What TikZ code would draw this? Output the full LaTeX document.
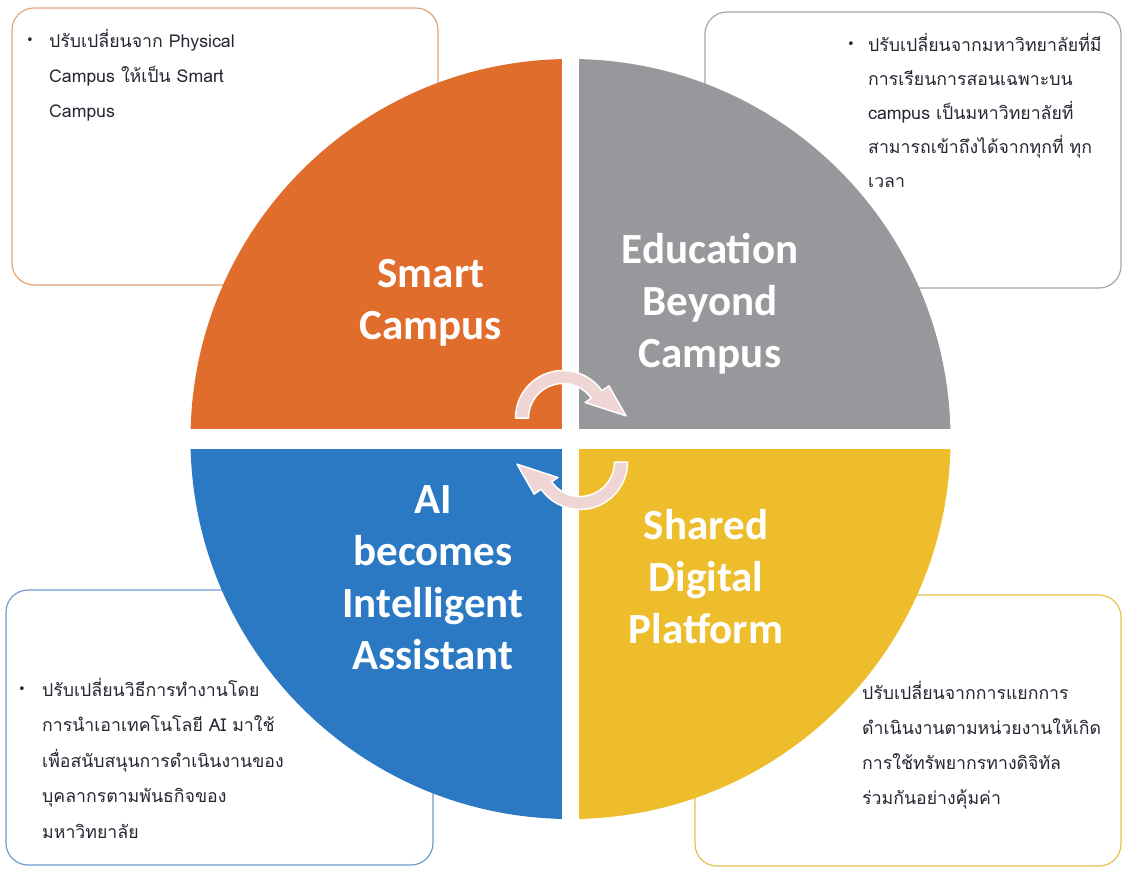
\documentclass[tikz,border=0pt]{standalone}
\usepackage{fontspec}
\setmainfont{Carlito}
\newfontfamily\thaifont[Script=Thai]{Loma}
\newfontfamily\symfont{DejaVu Sans}
\usepackage{tikz}
\usetikzlibrary{calc}

\definecolor{qorange}{HTML}{E16D2D}
\definecolor{qgrey}{HTML}{97989B}
\definecolor{qblue}{HTML}{2A79C2}
\definecolor{qyellow}{HTML}{EEBD2B}
\definecolor{turnpink}{HTML}{EFD6D5}
\definecolor{thaiink}{HTML}{262633}
\definecolor{borange}{HTML}{E4A474}
\definecolor{bgrey}{HTML}{A6A6AA}
\definecolor{bblue}{HTML}{6E9BD0}
\definecolor{byellow}{HTML}{E6C24C}

\begin{document}
\begin{tikzpicture}[x=1pt,y=-1pt,
	infobox/.style={draw, line width=1.2pt, rounded corners=22pt, fill=white},
	quarterlabel/.style={text=white, font=\fontsize{43}{52}\selectfont\bfseries, align=center, inner sep=0pt},
	thaitext/.style={text=thaiink, font=\thaifont\fontsize{17.7}{35}\selectfont, align=left, inner sep=0pt, anchor=base west},
	bul/.style={text=thaiink, font=\symfont\fontsize{13}{14}\selectfont, inner sep=0pt},
	turn/.style={fill=turnpink, draw=white, line width=1.5pt, line join=round}]
	\useasboundingbox (0,0) rectangle (1124,868);
	%
	\draw[infobox, draw=borange] (12,8) rectangle (438,285);
	\draw[infobox, draw=bgrey] (705,12) rectangle (1121,288);
	\draw[infobox, draw=bblue] (6,590) rectangle (433,865);
	\draw[infobox, draw=byellow] (695,595) rectangle (1121,866);
	%
	\coordinate (c) at (570.5,439);
	\fill[qorange] (c) -- ++(-180:380) arc[start angle=-180, end angle=-90, radius=380] -- cycle;
	\fill[qgrey] (c) -- ++(-90:380) arc[start angle=-90, end angle=0, radius=380] -- cycle;
	\fill[qyellow] (c) -- ++(0:380) arc[start angle=0, end angle=90, radius=380] -- cycle;
	\fill[qblue] (c) -- ++(90:380) arc[start angle=90, end angle=180, radius=380] -- cycle;
	\fill[white] (562,40) rectangle (579,840);
	\fill[white] (170,429) rectangle (970,449);
	%
	\coordinate (ca) at (563,418);
	\coordinate (cb) at (580,462);
	\draw[turn] ($(ca)+(-180:47.5)$) arc[start angle=-180, end angle=-35, radius=47.5]
		-- ($(ca)+(-35:56)$) -- ($(ca)+(-2:63)$) -- ($(ca)+(-35:27)$)
		-- ($(ca)+(-35:34.5)$) arc[start angle=-35, end angle=-180, radius=34.5] -- cycle;
	\draw[turn] ($(cb)+(0:47.5)$) arc[start angle=0, end angle=145, radius=47.5]
		-- ($(cb)+(145:56)$) -- ($(cb)+(178:63)$) -- ($(cb)+(145:27)$)
		-- ($(cb)+(145:34.5)$) arc[start angle=145, end angle=0, radius=34.5] -- cycle;
	%
	\node[quarterlabel] (smart) at (431,303) {Smart\\Campus};
	\node[quarterlabel] (beyond) at (710,303.5) {Education\\Beyond\\Campus};
	\node[quarterlabel] (ai) at (433,577.5) {AI\\becomes\\Intelligent\\Assistant};
	\node[quarterlabel] (shared) at (706,576.5) {Shared\\Digital\\Platform};
	%
	% base west = baseline of the last line
	\node[bul] (tlbul) at (30,41) {•};
	\node[thaitext] (tltext) at (49,117) {ปรับเปลี่ยนจาก Physical\\Campus ให้เป็น Smart\\Campus};
	\node[bul] (trbul) at (851,45) {•};
	\node[thaitext, font=\thaifont\fontsize{17.7}{34}\selectfont] (trtext) at (868,187) {ปรับเปลี่ยนจากมหาวิทยาลัยที่มี\\การเรียนการสอนเฉพาะบน\\campus เป็นมหาวิทยาลัยที่\\สามารถเข้าถึงได้จากทุกที่ ทุก\\เวลา};
	\node[bul] (blbul) at (22,690) {•};
	\node[thaitext, font=\thaifont\fontsize{17.7}{35.5}\selectfont] (bltext) at (42,838) {ปรับเปลี่ยนวิธีการทำงานโดย\\การนำเอาเทคโนโลยี AI มาใช้\\เพื่อสนับสนุนการดำเนินงานของ\\บุคลากรตามพันธกิจของ\\มหาวิทยาลัย};
	\node[thaitext] (brtext) at (862,804) {ปรับเปลี่ยนจากการแยกการ\\ดำเนินงานตามหน่วยงานให้เกิด\\การใช้ทรัพยากรทางดิจิทัล\\ร่วมกันอย่างคุ้มค่า};
\end{tikzpicture}
\end{document}
